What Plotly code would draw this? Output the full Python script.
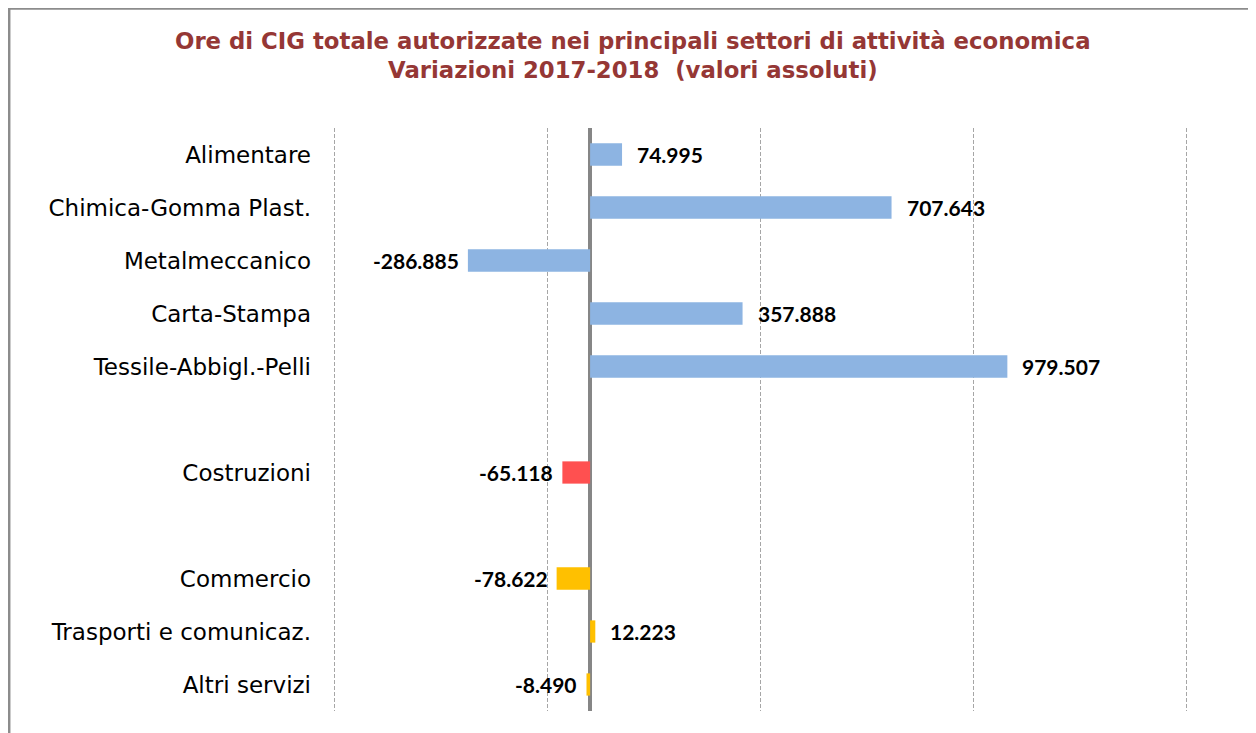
import plotly.graph_objects as go

# ---- data ----
sectors = ["Alimentare", "Chimica-Gomma Plast.", "Metalmeccanico", "Carta-Stampa",
           "Tessile-Abbigl.-Pelli", "Costruzioni", "Commercio",
           "Trasporti e comunicaz.", "Altri servizi"]
values = [74995, 707643, -286885, 357888, 979507, -65118, -78622, 12223, -8490]
groups = ["Industria", "Industria", "Industria", "Industria", "Industria",
          "Edilizia", "Servizi", "Servizi", "Servizi"]
group_colors = {"Industria": "#8DB4E2", "Edilizia": "#FF5050", "Servizi": "#FFC000"}
# category order with empty separator rows between groups
category_order = ["Alimentare", "Chimica-Gomma Plast.", "Metalmeccanico", "Carta-Stampa",
                  "Tessile-Abbigl.-Pelli", " ", "Costruzioni", "  ", "Commercio",
                  "Trasporti e comunicaz.", "Altri servizi"]
grid_ticks = [-600000, -100000, 400000, 900000, 1400000]
x_range = [-620000, 1420000]
title_lines = ["Ore di CIG totale autorizzate nei principali settori di attività economica",
               "Variazioni 2017-2018  (valori assoluti)"]


def fmt(v):
    return f"{v:,}".replace(",", ".")


# page has an 8px body margin; figure sized to fit the window
OFF = 8
W, H = 1256 - OFF, 733 - OFF
ML, MR, MT, MB = 318, 61, 120, 22
pw, ph = W - ML - MR, H - MT - MB


def px_x(page_x):
    return (page_x - OFF - ML) / pw


def px_y(page_y):
    return 1 + (MT - (page_y - OFF)) / ph


fig = go.Figure()
fig.add_trace(go.Bar(
    x=values, y=sectors, orientation="h",
    marker=dict(color=[group_colors[g] for g in groups], line=dict(width=0)),
    width=0.42, hoverinfo="x+y",
))

for s, v in zip(sectors, values):
    fig.add_annotation(
        x=v, y=s, xref="x", yref="y", text=fmt(v), showarrow=False,
        xanchor="left" if v >= 0 else "right",
        xshift=13 if v >= 0 else -7,
        font=dict(family="Lato", size=21, color="#000000", weight="bold"),
    )

for i, t in enumerate(title_lines):
    fig.add_annotation(
        x=px_x(633), y=px_y(41 + 29 * i), xref="paper", yref="paper", text=t,
        showarrow=False, xanchor="center", yanchor="middle",
        font=dict(family="DejaVu Sans", size=22.8, color="#953735", weight="bold"),
    )

# outer frame
fig.add_shape(type="rect", xref="paper", yref="paper",
              x0=px_x(OFF + 1.2), x1=px_x(1300),
              y0=px_y(760), y1=px_y(OFF + 0.5),
              line=dict(color="#8C8C8C", width=2.5), fillcolor="rgba(0,0,0,0)", layer="below")

fig.update_layout(
    width=W, height=H,
    margin=dict(l=ML, r=MR, t=MT, b=MB),
    paper_bgcolor="white", plot_bgcolor="white",
    showlegend=False,
    xaxis=dict(range=x_range, tickvals=grid_ticks, showticklabels=False,
               showgrid=True, gridcolor="#A6A6A6", gridwidth=1, griddash="4px,2px",
               zeroline=True, zerolinecolor="#868686", zerolinewidth=4,
               showline=False, fixedrange=True),
    yaxis=dict(type="category", categoryorder="array", categoryarray=category_order,
               autorange="reversed", showgrid=False, zeroline=False, showline=False,
               ticks="", ticklabelstandoff=14, fixedrange=True,
               tickfont=dict(family="DejaVu Sans", size=23, color="#000000")),
)

fig.write_html("out.html")
